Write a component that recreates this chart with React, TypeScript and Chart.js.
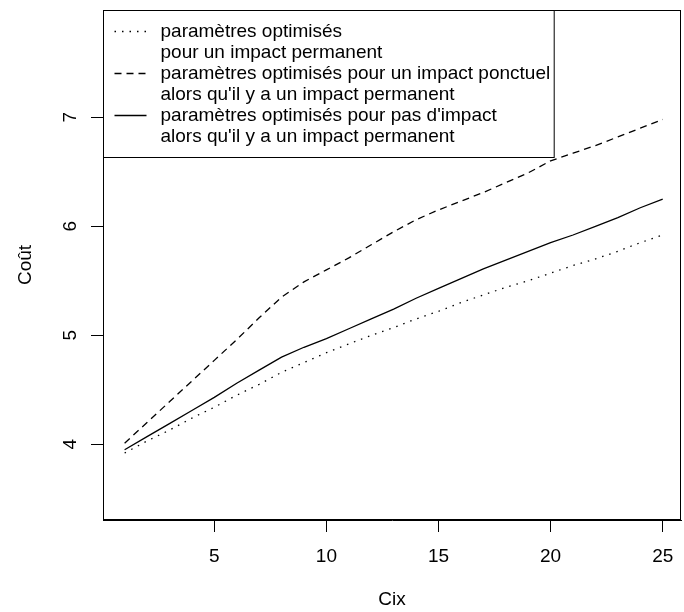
import React, { useEffect, useRef } from "react";
import { Chart, registerables } from "chart.js";

Chart.register(...registerables);

const cix = [1, 2, 3, 4, 5, 6, 7, 8, 9, 10, 11, 12, 13, 14, 15, 16, 17, 18, 19, 20, 21, 22, 23, 24, 25];
const permanent = [3.92, 4.03, 4.13, 4.24, 4.34, 4.45, 4.55, 4.66, 4.75, 4.84, 4.92, 5.0, 5.07, 5.15, 5.22, 5.3, 5.37, 5.44, 5.5, 5.57, 5.64, 5.7, 5.77, 5.85, 5.92];
const ponctuel = [4.01, 4.2, 4.39, 4.58, 4.77, 4.96, 5.16, 5.35, 5.49, 5.6, 5.71, 5.83, 5.95, 6.06, 6.15, 6.23, 6.31, 6.4, 6.49, 6.6, 6.67, 6.74, 6.82, 6.9, 6.98];
const pasImpact = [3.95, 4.07, 4.19, 4.31, 4.43, 4.56, 4.68, 4.8, 4.89, 4.97, 5.06, 5.15, 5.24, 5.34, 5.43, 5.52, 5.61, 5.69, 5.77, 5.85, 5.92, 6.0, 6.08, 6.17, 6.25];

const xTicks = [5, 10, 15, 20, 25];
const yTicks = [4, 5, 6, 7];

const legendLines = [
  ["paramètres optimisés", "pour un impact permanent"],
  ["paramètres optimisés pour un impact ponctuel", "alors qu'il y a un impact permanent"],
  ["paramètres optimisés pour pas d'impact", "alors qu'il y a un impact permanent"],
];

const FONT = '"Liberation Sans", Arial, Helvetica, sans-serif';

const framePlugin = {
  id: "rframe",
  afterDraw(chart: any) {
    const { ctx, chartArea } = chart;
    const l = Math.round(chartArea.left) + 0.5;
    const t = Math.round(chartArea.top) + 0.5;
    const r = Math.round(chartArea.right) - 0.5;
    const b = Math.round(chartArea.bottom) - 0.5;
    ctx.save();
    ctx.strokeStyle = "#000";
    ctx.lineWidth = 1;
    ctx.setLineDash([]);
    ctx.strokeRect(l, t, r - l, b - t);

    // legend
    ctx.font = `19px ${FONT}`;
    let maxW = 0;
    legendLines.forEach((ls) => ls.forEach((s) => (maxW = Math.max(maxW, ctx.measureText(s).width))));
    const rowH = 21;
    const nRows = legendLines.reduce((a, ls) => a + ls.length, 0);
    const boxW = 57 + maxW + 4;
    const boxH = nRows * rowH + 21;
    ctx.fillStyle = "#fff";
    ctx.fillRect(l, t, boxW, boxH);
    ctx.strokeRect(l, t, boxW, boxH);
    ctx.fillStyle = "#000";
    ctx.textBaseline = "middle";
    ctx.textAlign = "left";
    let row = 0;
    chart.data.datasets.forEach((ds: any, i: number) => {
      const y = t + 21 + row * rowH;
      ctx.save();
      ctx.setLineDash(ds.borderDash || []);
      ctx.lineWidth = ds.borderWidth;
      ctx.beginPath();
      ctx.moveTo(l + 11, y);
      ctx.lineTo(l + 43, y);
      ctx.stroke();
      ctx.restore();
      legendLines[i].forEach((s, j) => ctx.fillText(s, l + 57, y + j * rowH));
      row += legendLines[i].length;
    });
    ctx.restore();
  },
};

export default function App() {
  const ref = useRef<HTMLCanvasElement>(null);
  useEffect(() => {
    if (!ref.current) return;
    Chart.defaults.font.family = FONT;
    const mk = (ys: number[]) => cix.map((x, i) => ({ x, y: ys[i] }));
    const noPad = (s: any) => { s.paddingTop = 0; s.paddingBottom = 0; s.paddingLeft = 0; s.paddingRight = 0; };
    const chart = new Chart(ref.current, {
      type: "line",
      data: {
        datasets: [
          { label: legendLines[0].join(" "), data: mk(permanent), borderColor: "#000", borderWidth: 1.3, borderDash: [1.5, 6], pointRadius: 0, tension: 0, fill: false },
          { label: legendLines[1].join(" "), data: mk(ponctuel), borderColor: "#000", borderWidth: 1.3, borderDash: [7, 5], pointRadius: 0, tension: 0, fill: false },
          { label: legendLines[2].join(" "), data: mk(pasImpact), borderColor: "#000", borderWidth: 1.3, pointRadius: 0, tension: 0, fill: false },
        ],
      },
      options: {
        animation: false,
        responsive: false,
        devicePixelRatio: 1,
        layout: { padding: { left: 0, top: 10, right: 3, bottom: 0 } },
        plugins: { legend: { display: false }, tooltip: { enabled: false } },
        scales: {
          x: {
            type: "linear",
            min: 0.036,
            max: 25.816,
            afterBuildTicks: (s: any) => { s.ticks = xTicks.map((v) => ({ value: v })); },
            afterFit: (s: any) => { s.height = 92; noPad(s); },
            grid: { drawOnChartArea: false, drawTicks: true, tickLength: 12, tickColor: "#000", color: "#000" },
            border: { display: true, color: "#000", width: 1 },
            ticks: { color: "#000", font: { size: 19, family: FONT }, padding: 13, maxRotation: 0, autoSkip: false },
            title: { display: true, text: "Cix", color: "#000", font: { size: 19, family: FONT }, padding: { top: 0, bottom: 1 } },
          },
          y: {
            type: "linear",
            min: 3.3055,
            max: 7.984,
            afterBuildTicks: (s: any) => { s.ticks = yTicks.map((v) => ({ value: v })); },
            afterFit: (s: any) => { s.width = 103; noPad(s); },
            grid: { drawOnChartArea: false, drawTicks: true, tickLength: 12, tickColor: "#000", color: "#000" },
            border: { display: true, color: "#000", width: 1 },
            ticks: { color: "#000", font: { size: 19, family: FONT }, padding: 15, minRotation: 90, maxRotation: 90, crossAlign: "center", autoSkip: false },
            title: { display: true, text: "Coût", color: "#000", font: { size: 19, family: FONT }, padding: { top: 14, bottom: 0 } },
          },
        },
      },
      plugins: [framePlugin],
    } as any);
    return () => chart.destroy();
  }, []);
  return (
    <div style={{ position: "absolute", left: 0, top: 0, width: 684, height: 612, background: "#fff" }}>
      <canvas ref={ref} width={684} height={612} style={{ display: "block" }} />
    </div>
  );
}
